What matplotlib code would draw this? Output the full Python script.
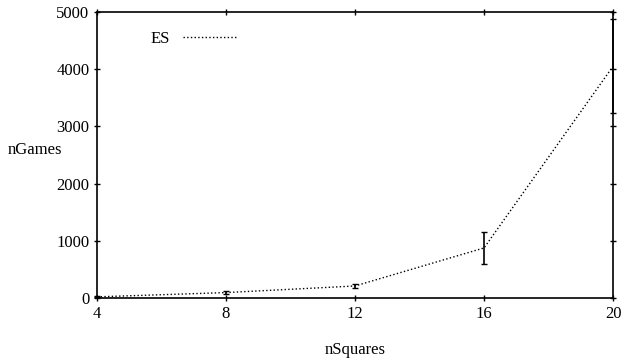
import matplotlib
matplotlib.use('Agg')
import matplotlib.pyplot as plt
from matplotlib.lines import Line2D

# data
n_squares = [4, 8, 12, 16, 20]
n_games = [20, 95, 210, 875, 4050]
n_games_err = [10, 20, 30, 285, 820]

plt.rcParams['font.family'] = ['Liberation Serif', 'DejaVu Serif']
plt.rcParams['font.size'] = 12

fig = plt.figure(figsize=(6.24, 3.62), dpi=100)
ax = fig.add_axes([97 / 624, 1 - 298 / 362, 516 / 624, 286 / 362])

ax.errorbar(n_squares, n_games, yerr=n_games_err, color='black', linestyle=':',
            linewidth=1, elinewidth=1.2, capsize=2, capthick=1, clip_on=False,
            zorder=3)

ax.set_xlim(4, 20)
ax.set_ylim(0, 5000)
ax.set_xticks(n_squares)
ax.set_yticks(range(0, 5001, 1000))
ax.tick_params(direction='inout', length=5, width=1, top=True, right=True,
               labeltop=False, labelright=False, pad=3)
for s in ax.spines.values():
    s.set_linewidth(1.2)

ax.set_xlabel('nSquares')
ax.xaxis.set_label_coords(0.5, -0.155)
ax.set_ylabel('nGames', rotation=0)
ax.yaxis.set_label_coords(-0.12, 0.49)

handle = Line2D([], [], color='black', linestyle=':', linewidth=1)
ax.legend([handle], ['ES'], loc='upper left', bbox_to_anchor=(0.075, 0.985),
          frameon=False, handlelength=3.3, markerfirst=False, handletextpad=0.8)

fig.savefig('out.png', dpi=100)
